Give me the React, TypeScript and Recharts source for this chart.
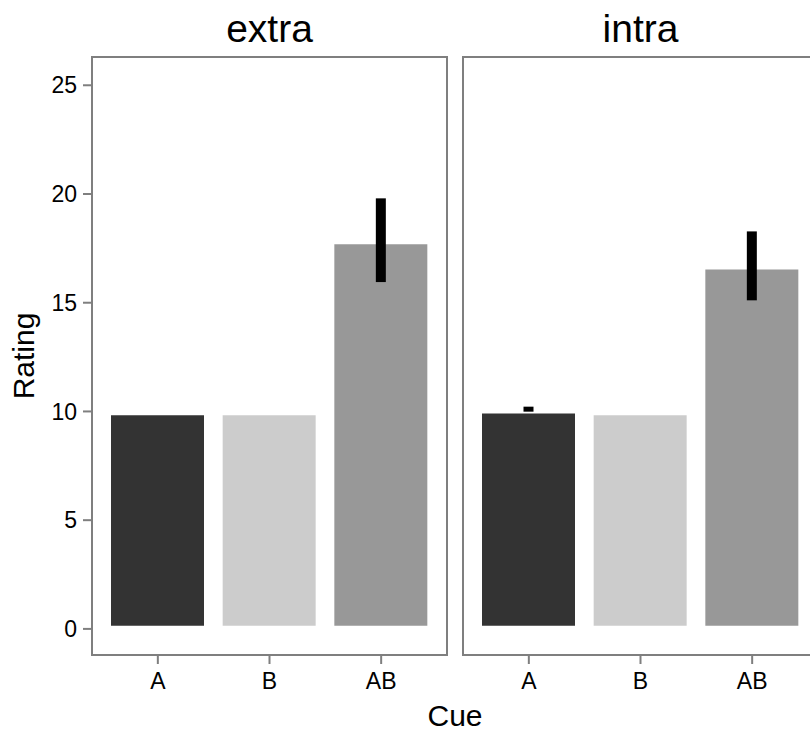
import React from 'react';
import { BarChart, Bar, XAxis, YAxis, ErrorBar, Cell } from 'recharts';

const cues = ['A', 'B', 'AB'];
const cueColors = ['#333333', '#cccccc', '#989898'];
const panels = ['extra', 'intra'];

// bar base sits a touch above zero in the original plot
const barBase = 0.15;
const extraMeans = [9.83, 9.83, 17.69];
const extraLower = [9.83, 9.83, 15.95];
const extraUpper = [9.83, 9.83, 19.8];
const intraMeans = [9.91, 9.83, 16.53];
const intraLower = [9.99, 9.83, 15.11];
const intraUpper = [10.22, 9.83, 18.28];

const yTicks = [0, 5, 10, 15, 20, 25];

const build = (means: number[], lower: number[], upper: number[]) =>
  cues.map((cue, i) => ({
    cue,
    range: [barBase, means[i]],
    err: [means[i] - lower[i], upper[i] - means[i]],
  }));

const panelData = [
  build(extraMeans, extraLower, extraUpper),
  build(intraMeans, intraLower, intraUpper),
];

const FONT = '"Liberation Sans", Arial, sans-serif';
const GRAY = '#7f7f7f';
const tickStyle = { fill: '#000', fontSize: 23, fontFamily: FONT };

function Panel({ data, showY }: { data: any[]; showY: boolean }) {
  return (
    <BarChart
      width={showY ? 447 : 355}
      height={732}
      data={data}
      margin={{ top: 57, right: 0, bottom: 0, left: 0 }}
    >
      <XAxis
        dataKey="cue"
        height={77}
        padding={{ left: 10, right: 10 }}
        axisLine={false}
        tickLine={{ stroke: GRAY, strokeWidth: 2 }}
        tickSize={9}
        tickMargin={9}
        tick={tickStyle}
      />
      <YAxis
        hide={!showY}
        width={92}
        type="number"
        domain={[-1.2, 26.3]}
        ticks={yTicks}
        allowDataOverflow
        axisLine={false}
        tickLine={{ stroke: GRAY, strokeWidth: 2 }}
        tickSize={9}
        tickMargin={6}
        tick={tickStyle}
      />
      <Bar dataKey="range" barSize={93} isAnimationActive={false}>
        {data.map((d, i) => (
          <Cell key={d.cue} fill={cueColors[i]} />
        ))}
        <ErrorBar dataKey="err" width={0} stroke="#000" strokeWidth={10} />
      </Bar>
    </BarChart>
  );
}

export default function App() {
  return (
    <div
      style={{
        position: 'absolute',
        left: 0,
        top: 0,
        width: 810,
        height: 732,
        overflow: 'hidden',
        background: '#fff',
        fontFamily: FONT,
      }}
    >
      <div style={{ position: 'absolute', left: 0, top: 0 }}>
        <Panel data={panelData[0]} showY />
      </div>
      <div style={{ position: 'absolute', left: 463, top: 0 }}>
        <Panel data={panelData[1]} showY={false} />
      </div>

      {/* panel borders */}
      <div style={{ position: 'absolute', left: 91, top: 56, width: 357, height: 600, border: `2px solid ${GRAY}`, boxSizing: 'border-box' }} />
      <div style={{ position: 'absolute', left: 462, top: 56, width: 357, height: 600, border: `2px solid ${GRAY}`, boxSizing: 'border-box' }} />

      <svg width={810} height={732} style={{ position: 'absolute', left: 0, top: 0, pointerEvents: 'none' }}>
        <text x={269.5} y={42} textAnchor="middle" fontSize={39} fontFamily={FONT} fill="#000">{panels[0]}</text>
        <text x={640.5} y={42} textAnchor="middle" fontSize={39} fontFamily={FONT} fill="#000">{panels[1]}</text>
        <text x={455} y={726} textAnchor="middle" fontSize={30} fontFamily={FONT} fill="#000">Cue</text>
        <text x={34} y={356} textAnchor="middle" fontSize={30} fontFamily={FONT} fill="#000" transform="rotate(-90 34 356)">Rating</text>
      </svg>
    </div>
  );
}
